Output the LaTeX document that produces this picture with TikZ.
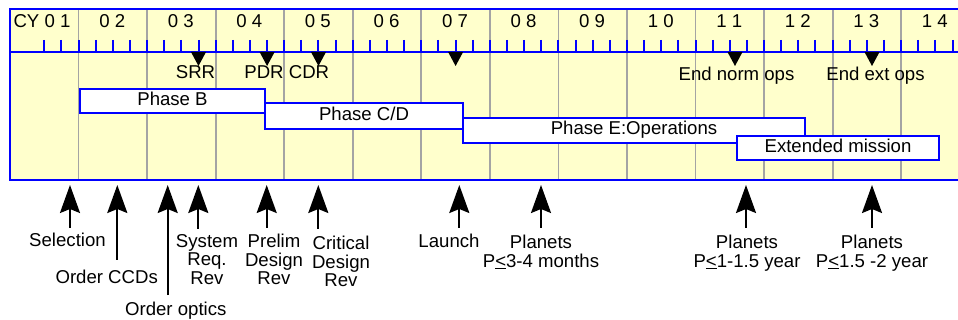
\documentclass[tikz,border=0pt]{standalone}
\usepackage{fontspec}
\setmainfont{Liberation Sans}
\usetikzlibrary{arrows.meta}
\definecolor{bgyellow}{HTML}{FFFFCC}
\definecolor{fblue}{HTML}{0000FF}
\definecolor{glines}{HTML}{A4A4A4}
\begin{document}
\begin{tikzpicture}[x=1pt,y=-1pt,
  every node/.style={font=\fontsize{18.6}{18.5}\selectfont, inner sep=0pt},
  phasebox/.style={draw=fblue, fill=white, line width=2pt, text height=13.6pt, text depth=5pt},
  yearlbl/.style={anchor=base},
  mslbl/.style={anchor=base},
  evlbl/.style={anchor=north, align=center},
  uparr/.style={-{Stealth[length=28pt,width=20pt,inset=4pt]}, line width=2pt},
  tri/.style={fill=black}]
\useasboundingbox (0,0) rectangle (958,320);
\clip (0,0) rectangle (958,320);
% background frame
\fill[bgyellow] (10,9) rectangle (980,180);
\foreach \k in {1,...,13}{
  \draw[glines, line width=1.8pt] ({10+68.55*\k},9) -- ({10+68.55*\k},180);
}
\draw[fblue, line width=2.2pt] (980,9) -- (10,9) -- (10,180) -- (980,180);
\draw[fblue, line width=2.2pt] (10,52) -- (980,52);
\foreach \j in {2,...,55}{
  \draw[fblue, line width=2pt] ({10+17.1375*\j},40) -- ({10+17.1375*\j},52);
}
% year labels
\node[yearlbl] (y01) at (42,28) {CY 0 1};
\node[yearlbl] (y02) at (112.3,28) {0 2};
\node[yearlbl] (y03) at (180.8,28) {0 3};
\node[yearlbl] (y04) at (249.4,28) {0 4};
\node[yearlbl] (y05) at (317.9,28) {0 5};
\node[yearlbl] (y06) at (386.5,28) {0 6};
\node[yearlbl] (y07) at (455.0,28) {0 7};
\node[yearlbl] (y08) at (523.6,28) {0 8};
\node[yearlbl] (y09) at (592.1,28) {0 9};
\node[yearlbl] (y10) at (660.7,28) {1 0};
\node[yearlbl] (y11) at (729.2,28) {1 1};
\node[yearlbl] (y12) at (797.8,28) {1 2};
\node[yearlbl] (y13) at (866.3,28) {1 3};
\node[yearlbl] (y14) at (934.9,28) {1 4};
% milestone triangles
\foreach \mx in {198.5,267.1,318.5,455.6,735,872}{
  \fill[tri] ({\mx-7.5},52) -- ({\mx+7.5},52) -- (\mx,66) -- cycle;
}
\node[mslbl] (srr) at (195.5,79) {SRR};
\node[mslbl] (pdr) at (264,79) {PDR};
\node[mslbl] (cdr) at (309,79) {CDR};
\node[mslbl] (endn) at (736.5,81) {End norm ops};
\node[mslbl] (ende) at (875.5,81) {End ext ops};
% phase boxes
\node[phasebox, minimum width=185pt, minimum height=24pt] (phB) at (172.5,101) {Phase B};
\node[phasebox, minimum width=198pt, minimum height=26pt] (phCD) at (364,116) {Phase C/D};
\node[phasebox, minimum width=342pt, minimum height=25pt] (phE) at (634,130.5) {Phase E:Operations};
\node[phasebox, minimum width=202pt, minimum height=24pt] (phX) at (838,148) {Extended mission};
% event labels
\node[evlbl] (sel) at (67.5,233) {Selection};
\node[evlbl] (ccd) at (106.7,270) {Order CCDs};
\node[evlbl] (opt) at (175.8,302) {Order optics};
\node[evlbl] (sys) at (207,234) {System\\Req.\\Rev};
\node[evlbl] (pre) at (274,234) {Prelim\\Design\\Rev};
\node[evlbl] (cri) at (341,236) {Critical\\Design\\Rev};
\node[evlbl] (lau) at (449,234) {Launch};
\node[evlbl] (pl1) at (541,235) {Planets\\P\underline{<}3-4 months};
\node[evlbl] (pl2) at (747,235) {Planets\\P\underline{<}1-1.5 year};
\node[evlbl] (pl3) at (872,235) {Planets\\P\underline{<}1.5 -2 year};
% arrows
\foreach \nm/\ax/\ay in {sel/70/228, ccd/117.3/260, opt/167.7/295, sys/198.3/229, pre/266.7/228, cri/318.3/229, lau/459.3/228, pl1/541/228, pl2/746/228, pl3/872/228}{
  \coordinate (\nm B) at (\ax,\ay);
  \coordinate (\nm T) at (\ax,185);
  \draw[uparr] (\nm B) -- (\nm T);
}
\end{tikzpicture}
\end{document}
